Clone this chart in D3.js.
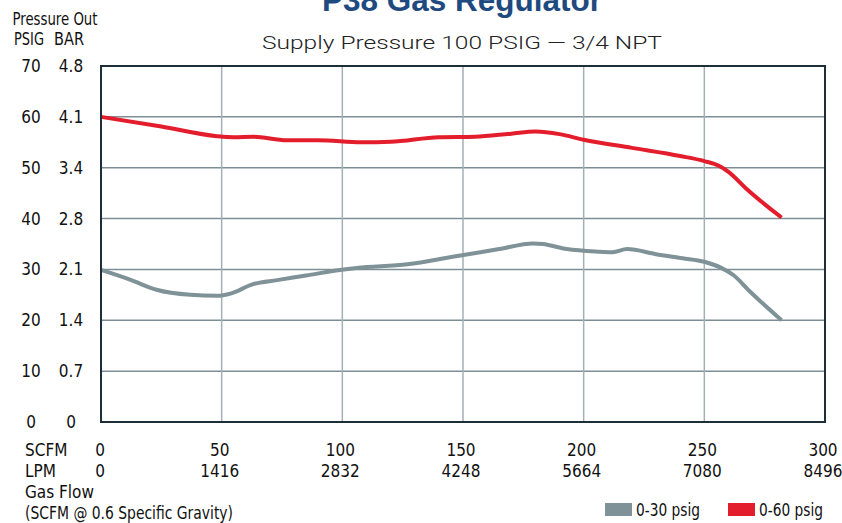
<!DOCTYPE html>
<html><head><meta charset="utf-8">
<script src="https://cdn.jsdelivr.net/npm/d3@7"></script>
<style>
html,body{margin:0;padding:0;background:#fff;}
svg{display:block;}
.cond{font-family:"Liberation Sans Narrow","DejaVu Sans Condensed","Roboto Condensed",sans-serif;}
</style></head>
<body>
<svg id="chart" width="842" height="523"></svg>
<script>
// ---- data ----
const xTicksSCFM = [0, 50, 100, 150, 200, 250, 300];
const xTicksLPM = ["0", "1416", "2832", "4248", "5664", "7080", "8496"];
const yTicksPSIG = [0, 10, 20, 30, 40, 50, 60, 70];
const yTicksBAR = ["0", "0.7", "1.4", "2.1", "2.8", "3.4", "4.1", "4.8"];

const flow60 = [0, 25, 48, 55, 63, 77, 90, 108, 120, 140, 155, 170, 180, 190, 200, 220, 240, 250, 256, 260, 268, 282];
const psig60 = [60.0, 58.1, 56.2, 56.0, 56.1, 55.4, 55.4, 55.0, 55.1, 56.0, 56.1, 56.7, 57.1, 56.6, 55.5, 53.9, 52.3, 51.3, 50.4, 49.2, 45.6, 40.2];

const flow30 = [0, 12, 23, 37, 48, 54, 63, 73, 85, 99, 106, 127, 147, 165, 179, 183, 193, 206, 212, 218, 230, 241, 250, 257, 262, 269, 282];
const psig30 = [29.9, 28.0, 26.0, 25.0, 24.8, 25.3, 27.1, 27.9, 28.8, 29.9, 30.3, 31.0, 32.6, 34.0, 35.1, 35.0, 34.0, 33.5, 33.4, 34.0, 33.0, 32.2, 31.5, 30.3, 28.9, 25.6, 20.0];

const seriesNames = ["0-30 psig", "0-60 psig"];
const seriesColors = ["#7f9297", "#e31d2b"];

// ---- layout ----
const svg = d3.select("#chart");
const L = 101, R = 825, T = 66, B = 422;
const x = d3.scaleLinear().domain([0, 300]).range([L, R]);
const y = d3.scaleLinear().domain([0, 70]).range([B, T]);

// title
svg.append("text").attr("x", 462).attr("y", 11).attr("text-anchor", "middle")
  .attr("font-family", "Liberation Sans, Arial, sans-serif").attr("font-weight", "bold")
  .attr("font-size", 31).attr("fill", "#1f4a7f")
  .attr("textLength", 280).attr("lengthAdjust", "spacingAndGlyphs")
  .text("P38 Gas Regulator");
svg.append("text").attr("x", 462).attr("y", 49).attr("text-anchor", "middle")
  .attr("font-family", "Roboto, 'Liberation Sans', sans-serif").attr("font-weight", 300)
  .attr("font-size", 19).attr("fill", "#222")
  .attr("textLength", 400).attr("lengthAdjust", "spacingAndGlyphs")
  .text("Supply Pressure 100 PSIG \u2014 3/4 NPT");

// left header
svg.append("text").attr("class", "cond").attr("x", 12.5).attr("y", 25).attr("font-size", 18).attr("fill", "#111")
  .attr("textLength", 85).attr("lengthAdjust", "spacingAndGlyphs").text("Pressure Out");
svg.append("text").attr("class", "cond").attr("x", 14).attr("y", 45).attr("font-size", 17).attr("fill", "#111")
  .attr("textLength", 30).attr("lengthAdjust", "spacingAndGlyphs").text("PSIG");
svg.append("text").attr("class", "cond").attr("x", 54).attr("y", 45).attr("font-size", 17).attr("fill", "#111")
  .attr("textLength", 30).attr("lengthAdjust", "spacingAndGlyphs").text("BAR");

// grid
const g = svg.append("g");
g.selectAll("line.h").data(yTicksPSIG.slice(1, -1)).join("line")
  .attr("x1", L).attr("x2", R).attr("y1", d => y(d)).attr("y2", d => y(d))
  .attr("stroke", "#7e8e96").attr("stroke-width", 1.5);
g.selectAll("line.v").data(xTicksSCFM.slice(1, -1)).join("line")
  .attr("y1", T).attr("y2", B).attr("x1", d => x(d)).attr("x2", d => x(d))
  .attr("stroke", "#a3b0b6").attr("stroke-width", 1.5);

// y labels
svg.selectAll("text.yp").data(yTicksPSIG).join("text").attr("class", "cond")
  .attr("x", 31).attr("y", d => y(d) + 6).attr("text-anchor", "middle")
  .attr("font-size", 17).attr("fill", "#111").text(d => d);
svg.selectAll("text.yb").data(yTicksBAR).join("text").attr("class", "cond")
  .attr("x", 71).attr("y", (d, i) => y(yTicksPSIG[i]) + 6).attr("text-anchor", "middle")
  .attr("font-size", 17).attr("fill", "#111").text(d => d);

// x labels
svg.append("text").attr("class", "cond").attr("x", 25).attr("y", 456).attr("font-size", 17).attr("fill", "#111").text("SCFM");
svg.append("text").attr("class", "cond").attr("x", 25).attr("y", 477).attr("font-size", 17).attr("fill", "#111").text("LPM");
svg.selectAll("text.xs").data(xTicksSCFM).join("text").attr("class", "cond")
  .attr("x", d => d === 0 ? x(d) - 1 : x(d) - 2).attr("y", 456).attr("text-anchor", "middle")
  .attr("font-size", 17).attr("fill", "#111").text(d => d);
svg.selectAll("text.xl").data(xTicksLPM).join("text").attr("class", "cond")
  .attr("x", (d, i) => xTicksSCFM[i] === 0 ? x(0) - 1 : x(xTicksSCFM[i]) - 2).attr("y", 477).attr("text-anchor", "middle")
  .attr("font-size", 17).attr("fill", "#111").text(d => d);
svg.append("text").attr("class", "cond").attr("x", 25).attr("y", 498).attr("font-size", 17).attr("fill", "#111").text("Gas Flow");
svg.append("text").attr("class", "cond").attr("x", 25).attr("y", 519).attr("font-size", 17).attr("fill", "#111")
  .attr("textLength", 208).attr("lengthAdjust", "spacingAndGlyphs").text("(SCFM @ 0.6 Specific Gravity)");

// lines
const line = d3.line().x(d => x(d[0])).y(d => y(d[1])).curve(d3.curveMonotoneX);
const d30 = flow30.map((f, i) => [f, psig30[i]]);
const d60 = flow60.map((f, i) => [f, psig60[i]]);
svg.append("path").attr("d", line(d30)).attr("fill", "none").attr("stroke", seriesColors[0]).attr("stroke-width", 4);
svg.append("path").attr("d", line(d60)).attr("fill", "none").attr("stroke", seriesColors[1]).attr("stroke-width", 4);

// frame
svg.append("rect").attr("x", L).attr("y", T).attr("width", R - L).attr("height", B - T)
  .attr("fill", "none").attr("stroke", "#1c2e38").attr("stroke-width", 2);

// legend
const legX = [605, 728];
seriesNames.forEach((n, i) => {
  svg.append("rect").attr("x", legX[i]).attr("y", 503).attr("width", 27).attr("height", 13).attr("fill", seriesColors[i]);
  svg.append("text").attr("class", "cond").attr("x", legX[i] + 31).attr("y", 516).attr("font-size", 17).attr("fill", "#111")
    .attr("textLength", 64).attr("lengthAdjust", "spacingAndGlyphs").text(n);
});
</script>
</body></html>
